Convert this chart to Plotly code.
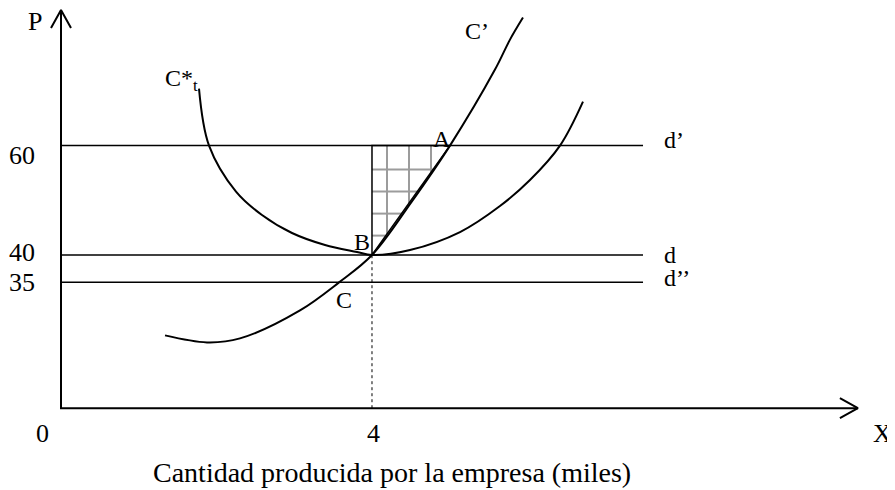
import plotly.graph_objects as go

# ---------------- data ----------------
price_levels = [60, 40, 35]                 # horizontal demand lines d', d, d''
price_tick_labels = ["60", "40", "35"]
demand_names = ["d’", "d", "d’’"]
qty_ticks = [0, 4]
qty_tick_labels = ["0", "4"]

# C' curve (marginal cost)
cm_x = [1.338, 1.878, 2.302, 3.074, 3.576, 4.0, 4.502, 5.003, 5.582, 5.775, 5.942]
cm_y = [25.31, 24.03, 24.76, 29.88, 35.0, 40.0, 49.58, 60.0, 73.89, 79.37, 83.40]

# C*_t curve (average total cost, U shape)
ct_x = [1.775, 1.904, 2.251, 2.585, 2.971, 3.396, 3.807, 4.0, 4.489, 5.132, 5.646, 6.032, 6.418, 6.714]
ct_y = [70.42, 60.0, 51.59, 47.31, 44.02, 41.83, 40.55, 40.0, 40.91, 44.20, 48.96, 53.71, 60.0, 68.04]

# points A, B, C
pt_names = ["A", "B", "C"]
pt_x = [5.003, 4.0, 3.576]
pt_y = [60, 40, 35]

# ---------------- diagram geometry (style) ----------------
PX_X = 77.75           # pixels per unit of quantity
PX_Y = 5.471           # pixels per unit of price
Y_BASE = 12.0          # level where the horizontal axis is drawn
X_END = 10.25          # x-axis arrow tip
P_TOP = 84.8           # y-axis arrow tip
LINE_END = 7.486       # end of horizontal d lines
X_RANGE = [-0.6817, 10.727]
Y_RANGE = [-2.95, 85.15]
FONT = "Liberation Serif, Times New Roman, serif"
GRID_CELL = 22         # hatch cell size, px
GRID_PHASE_X = 15      # first vertical hatch line, px right of B
GRID_PHASE_Y = 24      # first horizontal hatch line, px below A's level

fig = go.Figure()

# ---- hatched triangle B-(xB,yA)-A, grid clipped to the chord B-A ----
xB, yB, xA, yA = pt_x[1], pt_y[1], pt_x[0], pt_y[0]
slope = (yA - yB) / (xA - xB)
gx, gy = [], []
k = 0
while True:
    x = xB + (GRID_PHASE_X + GRID_CELL * k) / PX_X
    if x >= xA:
        break
    gx += [x, x, None]
    gy += [yB + (x - xB) * slope, yA, None]
    k += 1
k = 0
while True:
    p = yA - (GRID_PHASE_Y + GRID_CELL * k) / PX_Y
    if p <= yB:
        break
    gx += [xB, xB + (p - yB) / slope, None]
    gy += [p, p, None]
    k += 1
fig.add_trace(go.Scatter(x=gx, y=gy, mode="lines", line=dict(color="#9c9c9c", width=2),
                         hoverinfo="skip", showlegend=False))
fig.add_trace(go.Scatter(x=[xB, xB, xA, xB], y=[yB, yA, yA, yB], mode="lines",
                         line=dict(color="black", width=1.5), hoverinfo="skip", showlegend=False))

# horizontal demand lines
for p in price_levels:
    fig.add_trace(go.Scatter(x=[0, LINE_END], y=[p, p], mode="lines",
                             line=dict(color="black", width=1.5),
                             hoverinfo="skip", showlegend=False))

# dotted vertical at q = 4
fig.add_trace(go.Scatter(x=[qty_ticks[1], qty_ticks[1]], y=[Y_BASE, pt_y[1]], mode="lines",
                         line=dict(color="black", width=1, dash="dot"),
                         hoverinfo="skip", showlegend=False))

# curves
fig.add_trace(go.Scatter(x=cm_x, y=cm_y, mode="lines",
                         line=dict(color="black", width=2, shape="spline", smoothing=1),
                         hoverinfo="skip", showlegend=False))
fig.add_trace(go.Scatter(x=ct_x, y=ct_y, mode="lines",
                         line=dict(color="black", width=2, shape="spline", smoothing=1),
                         hoverinfo="skip", showlegend=False))

# axes with chevron arrows
ax_w = 2
fig.add_trace(go.Scatter(x=[0, 0, X_END], y=[P_TOP, Y_BASE, Y_BASE], mode="lines",
                         line=dict(color="black", width=ax_w), hoverinfo="skip", showlegend=False))
dxh, dph = 10 / PX_X, 18 / PX_Y
fig.add_trace(go.Scatter(x=[-dxh, 0, dxh], y=[P_TOP - dph, P_TOP, P_TOP - dph], mode="lines",
                         line=dict(color="black", width=ax_w), hoverinfo="skip", showlegend=False))
dxa, dpa = 18 / PX_X, 10 / PX_Y
fig.add_trace(go.Scatter(x=[X_END - dxa, X_END, X_END - dxa], y=[Y_BASE + dpa, Y_BASE, Y_BASE - dpa],
                         mode="lines", line=dict(color="black", width=ax_w),
                         hoverinfo="skip", showlegend=False))

ann = []
def txt(x, y, s, size=24, xanchor="center", yanchor="middle", xshift=0, yshift=0):
    ann.append(dict(x=x, y=y, xref="x", yref="y", text=s, showarrow=False,
                    font=dict(family=FONT, size=size, color="black"),
                    xanchor=xanchor, yanchor=yanchor, xshift=xshift, yshift=yshift))

# y tick labels
tick_shift = [-10, 3, 0]
for p, lab, sh in zip(price_levels, price_tick_labels, tick_shift):
    txt(-0.502, p, lab, size=26, yshift=sh)
# x tick labels
for q, lab in zip(qty_ticks, qty_tick_labels):
    txt(q, Y_BASE, lab, size=26, xshift=(-19 if q == 0 else 2), yshift=-25)
txt(X_END, Y_BASE, "X", size=26, xshift=25, yshift=-25)
txt(-0.334, 82.6, "P", size=26)
txt(4.26, 0.2, "Cantidad producida por la empresa (miles)", size=28)

# demand labels
d_shift = [6, 0, 4]
for p, lab, sh in zip(price_levels, demand_names, d_shift):
    txt(7.73, p, lab, xanchor="left", yshift=sh)

# point labels
pt_off = [(-8, 7), (-10, 13), (5, -18)]
for n, x, y, (xs, ys) in zip(pt_names, pt_x, pt_y, pt_off):
    txt(x, y, n, xshift=xs, yshift=ys)

txt(5.35, 80.95, "C’")
txt(1.312, 72.0, "C*<sub>t</sub>", xanchor="left")

fig.update_layout(
    width=887, height=482,
    margin=dict(l=0, r=0, t=0, b=0),
    paper_bgcolor="white", plot_bgcolor="white",
    xaxis=dict(range=X_RANGE, visible=False, fixedrange=True),
    yaxis=dict(range=Y_RANGE, visible=False, fixedrange=True),
    annotations=ann,
    showlegend=False,
)

fig.write_html("out.html", config={"displayModeBar": False})
